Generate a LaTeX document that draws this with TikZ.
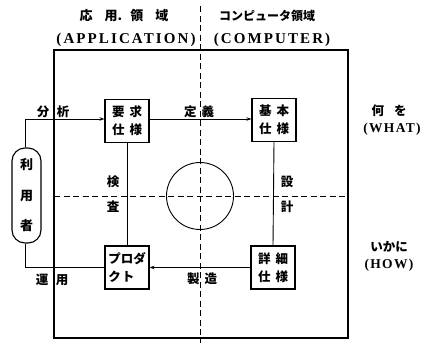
\documentclass[tikz,border=0pt]{standalone}
\usepackage{fontspec}
\setmainfont{Noto Sans CJK JP}
\newfontfamily\lat[LetterSpace=14]{Liberation Serif}
\newfontfamily\latb[LetterSpace=10]{Liberation Serif}
\usetikzlibrary{arrows.meta}
\begin{document}
\begin{tikzpicture}[x=1pt,y=-1pt,
  box/.style={draw,line width=1.1pt,minimum width=44pt,minimum height=43pt,inner sep=0pt,font=\bfseries\fontsize{12.5}{18}\selectfont,align=center},
  lbl/.style={font=\bfseries\fontsize{12.5}{14}\selectfont,inner sep=0pt},
  latl/.style={font=\lat\bfseries\fontsize{15}{17}\selectfont,inner sep=0pt},
  latr/.style={font=\latb\bfseries\fontsize{13.5}{15}\selectfont,inner sep=0pt},
  conn/.style={line width=0.9pt},
  arr/.style={conn,-{Stealth[length=5pt,width=3.5pt]}},
  axisdash/.style={line width=1pt,dash pattern=on 6pt off 3.5pt}
]
\useasboundingbox (0,0) rectangle (428,343);
% frame
\coordinate (tl) at (54,50);
\coordinate (br) at (348,338);
\draw[line width=1.2pt] (tl) rectangle (br);
% dashed axes
\coordinate (vt) at (200,6);
\coordinate (vb) at (200,343);
\coordinate (hl) at (54,196);
\coordinate (hr) at (348,196);
\draw[axisdash] (vt) -- (vb);
\draw[axisdash] (hl) -- (hr);
% circle
\node[draw,circle,line width=0.9pt,minimum size=67pt,inner sep=0pt] (c) at (200,196) {};
% boxes
\node[box] (req) at (127,121) {要\hspace{5pt}求\\仕\hspace{5pt}様};
\node[box] (bas) at (274,120) {基\hspace{5pt}本\\仕\hspace{5pt}様};
\node[box,align=left] (prd) at (127,267.5) {プロダ\\ク\hspace{1pt}ト\hspace{12pt}};
\node[box] (det) at (273,267.5) {詳\hspace{5pt}細\\仕\hspace{5pt}様};
% user capsule
\node[draw,line width=1.1pt,rounded corners=13pt,minimum width=29pt,minimum height=95pt,inner sep=0pt,
  font=\bfseries\fontsize{13}{30.5}\selectfont,align=center] (usr) at (26.5,195.5) {利\\用\\者};
% connectors
\coordinate (ua) at (25,119);
\coordinate (ub) at (25,267.5);
\draw[arr] (usr.north -| ua) -- (ua) -- (req.west |- ua);
\draw[arr] (req.east |- 0,119) -- (bas.west |- 0,119);
\draw[conn] (req.south) -- (prd.north);
\draw[conn] (bas.south) -- (det.north);
\draw[arr] (det.west) -- (prd.east);
\draw[conn] (prd.west) -- (ub) -- (usr.south -| ub);
% labels
\node[lbl] (l1) at (43,112) {分};
\node[lbl] (l2) at (63,112) {析};
\node[lbl] (l3) at (199,112) {定\hspace{5pt}義};
\node[lbl] (l4) at (113,182) {検};
\node[lbl] (l5) at (113,207) {査};
\node[lbl] (l6) at (287,182) {設};
\node[lbl] (l7) at (287,207) {計};
\node[lbl] (l8) at (42,280) {運};
\node[lbl] (l9) at (62,280) {用};
\node[lbl] (l10) at (202,279) {製\hspace{5pt}造};
% top labels
\node[lbl,font=\bfseries\fontsize{13}{15}\selectfont] (t1) at (124,16) {応\hspace{12pt}用.\hspace{8pt}領\hspace{12pt}域};
\node[latl] (t2) at (126,40) {(APPLICATION)};
\node[lbl,font=\bfseries\fontsize{12}{14}\selectfont] (t3) at (267,16) {コンピュータ領域};
\node[latl] (t4) at (272,40) {(COMPUTER)};
% right labels
\node[lbl] (r1) at (389,111) {何\hspace{10pt}を};
\node[latr] (r2) at (392,129) {(WHAT)};
\node[lbl] (r3) at (389,247) {いかに};
\node[latr] (r4) at (389,265) {(HOW)};
\end{tikzpicture}
\end{document}
